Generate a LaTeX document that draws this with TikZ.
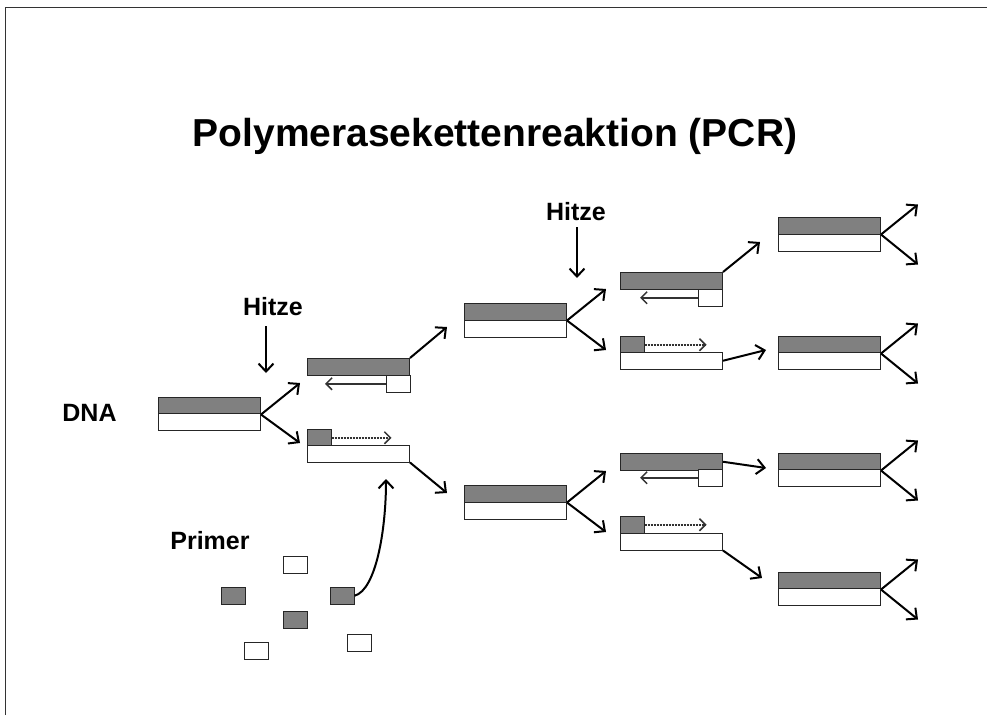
\documentclass[tikz,border=0pt]{standalone}
\usepackage{fontspec}
\setmainfont{Liberation Sans}
\usepackage{tikz}
\usetikzlibrary{arrows.meta}

\begin{document}
\begin{tikzpicture}[
  x=1pt, y=-1pt,
  strand/.style={draw=black!85, line width=1pt, minimum width=102pt, minimum height=16.5pt, inner sep=0pt, anchor=north west},
  gstrand/.style={strand, fill=black!50},
  wstrand/.style={strand, fill=white},
  primer/.style={draw=black!85, line width=1pt, minimum width=23.5pt, minimum height=16.5pt, inner sep=0pt, anchor=north west},
  gprimer/.style={primer, fill=black!50},
  wprimer/.style={primer, fill=white},
  lbl/.style={font=\fontsize{25}{30}\selectfont\bfseries, inner sep=0pt},
  arrow/.style={-{Straight Barb[length=8pt, width=15pt]}, line width=2pt},
  ext/.style={-{Straight Barb[length=6pt, width=12pt, line width=1.5pt]}, line width=1.6pt, black!80, dash pattern=on 1.2pt off 0.3pt}
]
\useasboundingbox (0,0) rectangle (987,715);
\draw[black!80, line width=1pt] (5,715) -- (5,7) -- (987,7);

\node[font=\fontsize{39}{46}\selectfont\bfseries, anchor=base] (title) at (495,146) {Polymerasekettenreaktion (PCR)};
\node[lbl] (dna) at (89.5,412.5) {DNA};
\node[lbl] (h1) at (273,307) {Hitze};
\node[lbl] (h2) at (576,212) {Hitze};
\node[lbl] (prim) at (210,541) {Primer};

% DNA
\node[gstrand] (d0g) at (158,397) {};
\node[wstrand] (d0w) at (158,413) {};

% nach dem Erhitzen
\node[gstrand] (a1) at (307,358) {};
\node[wprimer] (a1p) at (386,375) {};
\node[gprimer] (b1p) at (307,429) {};
\node[wstrand] (b1) at (307,445) {};

% zweite Generation
\node[gstrand] (c2g) at (464,303) {};
\node[wstrand] (c2w) at (464,320) {};
\node[gstrand] (e2g) at (464,485) {};
\node[wstrand] (e2w) at (464,502) {};

% nach dem zweiten Erhitzen
\node[gstrand] (f3) at (620,272) {};
\node[wprimer] (f3p) at (698,289) {};
\node[gprimer] (g3p) at (620,336) {};
\node[wstrand] (g3) at (620,352) {};
\node[gstrand] (i3) at (620,453) {};
\node[wprimer] (i3p) at (698,469) {};
\node[gprimer] (j3p) at (620,516) {};
\node[wstrand] (j3) at (620,533) {};

% dritte Generation
\node[gstrand] (k4g) at (778,217) {};
\node[wstrand] (k4w) at (778,234) {};
\node[gstrand] (l4g) at (778,336) {};
\node[wstrand] (l4w) at (778,352) {};
\node[gstrand] (m4g) at (778,453) {};
\node[wstrand] (m4w) at (778,469) {};
\node[gstrand] (n4g) at (778,572) {};
\node[wstrand] (n4w) at (778,588) {};

% Primer
\node[wprimer] (p1) at (283,556) {};
\node[gprimer] (p2) at (221,587) {};
\node[gprimer] (p3) at (330,587) {};
\node[gprimer] (p4) at (283,611) {};
\node[wprimer] (p5) at (244,642) {};
\node[wprimer] (p6) at (347,634) {};

% Pfeilenden
\coordinate (h1e) at (266,373);
\coordinate (h2e) at (577,278);
\coordinate (d0u) at (300,383);
\coordinate (d0d) at (300,443);
\coordinate (a1e) at (447,327);
\coordinate (b1e) at (447,493);
\coordinate (c2u) at (606,289);
\coordinate (c2d) at (606,350);
\coordinate (e2u) at (606,471);
\coordinate (e2d) at (606,532);
\coordinate (f3e) at (760,242);
\coordinate (g3e) at (766,350);
\coordinate (i3e) at (766,468);
\coordinate (j3e) at (762,578);
\coordinate (pe) at (386,479);

\draw[arrow] ([xshift=-7pt,yshift=-10pt]h1.south) -- (h1e);
\draw[arrow] ([xshift=1pt,yshift=-6pt]h2.south) -- (h2e);

\draw[arrow] (d0g.south east) -- (d0u);
\draw[arrow] (d0g.south east) -- (d0d);
\draw[arrow] (a1.north east) -- (a1e);
\draw[arrow] (b1.south east) -- (b1e);
\draw[arrow] (c2g.south east) -- (c2u);
\draw[arrow] (c2g.south east) -- (c2d);
\draw[arrow] (e2g.south east) -- (e2u);
\draw[arrow] (e2g.south east) -- (e2d);
\draw[arrow] (f3.north east) -- (f3e);
\draw[arrow] (g3.east) -- (g3e);
\draw[arrow] (i3.east) -- (i3e);
\draw[arrow] (j3.south east) -- (j3e);

\foreach \n in {k4g, l4g, m4g, n4g} {
  \draw[arrow] (\n.south east) -- ++(37,-30);
  \draw[arrow] (\n.south east) -- ++(37,30);
}

\draw[ext] (a1p.west) -- ++(-61,0);
\draw[ext] (b1p.east) -- ++(60,0);
\draw[ext] (f3p.west) -- ++(-58,0);
\draw[ext] (g3p.east) -- ++(62,0);
\draw[ext] (i3p.west) -- ++(-58,0);
\draw[ext] (j3p.east) -- ++(62,0);

\draw[arrow] (p3.east) .. controls (376,590) and (386,530) .. (pe);
\end{tikzpicture}
\end{document}
